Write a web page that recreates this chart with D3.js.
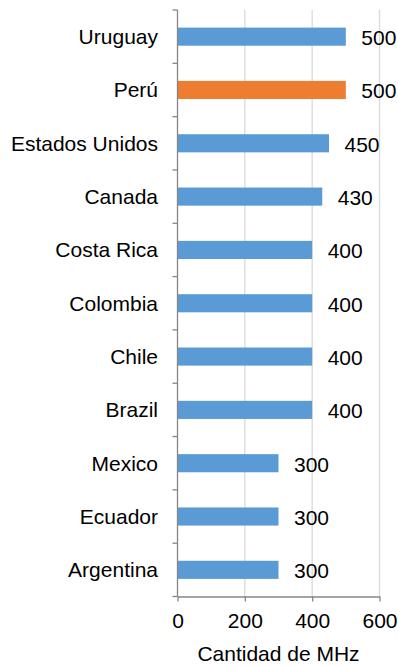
<!DOCTYPE html>
<html lang="es">
<head>
    <meta charset="UTF-8">
    <title>Cantidad de MHz</title>
    <script src="https://cdn.jsdelivr.net/npm/d3@7"></script>
    <style>
        body{ margin:0; background:#fff; }
        .textos{ font-family: 'Liberation Sans', Arial, sans-serif; font-size: 21px; fill:#000; }
    </style>
</head>
<body>
    <div id="grafico"></div>
<script>
var paises = ["Uruguay", "Perú", "Estados Unidos", "Canada", "Costa Rica", "Colombia",
              "Chile", "Brazil", "Mexico", "Ecuador", "Argentina"];
var mhz = [500, 500, 450, 430, 400, 400, 400, 400, 300, 300, 300];
var ticksX = [0, 200, 400, 600];
var destacado = "Perú";

var w = 398;
var h = 666;

var xScale = d3.scaleLinear()
    .domain([0, 600])
    .range([177.5, 379.5]);

var yScale = d3.scaleBand()
    .domain(paises)
    .range([10, 596.5])
    .paddingInner(0.66)
    .paddingOuter(0.33);

var grafico = d3.select("#grafico")
    .append("svg")
    .attr("width", w)
    .attr("height", h);

// lineas de cuadricula
grafico.selectAll("line.grid")
    .data(ticksX.slice(1))
    .enter()
    .append("line")
    .attr("class", "grid")
    .attr("x1", function(d){ return xScale(d) })
    .attr("x2", function(d){ return xScale(d) })
    .attr("y1", 10)
    .attr("y2", 596.5)
    .attr("stroke", "#d9d9d9")
    .attr("stroke-width", 1.3);

// barras
grafico.selectAll("rect")
    .data(paises)
    .enter()
    .append("rect")
    .attr("x", xScale(0))
    .attr("y", function(d){ return yScale(d) })
    .attr("width", function(d, i){ return xScale(mhz[i]) - xScale(0) })
    .attr("height", yScale.bandwidth())
    .attr("fill", function(d){ return d == destacado ? "#ed7d31" : "#5b9bd5" });

// eje x
var ejeX = grafico.append("g")
    .attr("transform", "translate(0,596.5)")
    .call(d3.axisBottom(xScale).tickValues(ticksX).tickSize(5).tickSizeOuter(0));
ejeX.select(".domain").attr("stroke", "#868686").attr("stroke-width", 1.3);
ejeX.selectAll(".tick line").attr("stroke", "#868686").attr("stroke-width", 1.3);
ejeX.selectAll(".tick text")
    .attr("class", "textos")
    .attr("dy", null)
    .attr("y", 31);

// eje y
var limites = d3.range(paises.length + 1).map(function(i){
    return 10 + i * (586.5 / paises.length);
});
grafico.append("line")
    .attr("x1", xScale(0)).attr("x2", xScale(0))
    .attr("y1", 10).attr("y2", 596.5)
    .attr("stroke", "#868686").attr("stroke-width", 1.3);
grafico.selectAll("line.ticky")
    .data(limites)
    .enter()
    .append("line")
    .attr("class", "ticky")
    .attr("x1", xScale(0) - 5).attr("x2", xScale(0))
    .attr("y1", function(d){ return d }).attr("y2", function(d){ return d })
    .attr("stroke", "#868686").attr("stroke-width", 1.3);

// nombres de paises
grafico.selectAll("text.pais")
    .data(paises)
    .enter()
    .append("text")
    .attr("class", "pais textos")
    .attr("x", 158)
    .attr("y", function(d){ return yScale(d) + yScale.bandwidth() / 2 })
    .attr("dy", "0.35em")
    .attr("text-anchor", "end")
    .text(function(d){ return d });

// valores
grafico.selectAll("text.valor")
    .data(paises)
    .enter()
    .append("text")
    .attr("class", "valor textos")
    .attr("x", function(d, i){ return xScale(mhz[i]) + 15.5 })
    .attr("y", function(d){ return yScale(d) + yScale.bandwidth() / 2 + 1 })
    .attr("dy", "0.35em")
    .text(function(d, i){ return mhz[i] });

// titulo del eje
grafico.append("text")
    .attr("class", "textos")
    .attr("x", (xScale(0) + xScale(600)) / 2)
    .attr("y", 661)
    .attr("text-anchor", "middle")
    .text("Cantidad de MHz");
</script>
</body>
</html>
